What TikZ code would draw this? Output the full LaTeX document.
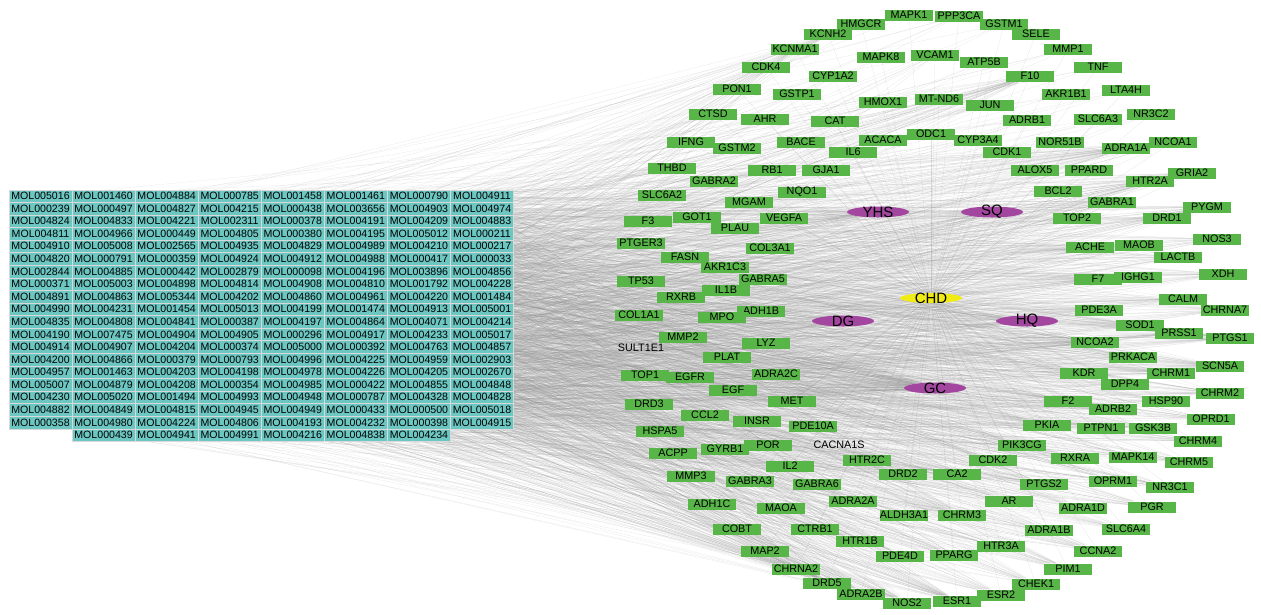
\documentclass[tikz,border=0pt]{standalone}
\usepackage{fontspec}
\setmainfont{Liberation Sans}
\usetikzlibrary{shapes.geometric}
\definecolor{molcyan}{RGB}{108,199,194}
\definecolor{genegreen}{RGB}{88,182,72}
\definecolor{herbpurple}{RGB}{163,70,160}
\definecolor{chdyellow}{RGB}{240,235,20}
\pgfdeclarelayer{edges}
\pgfsetlayers{edges,main}
\pgfmathdeclarerandomlist{herbs}{{YHS}{SQ}{DG}{HQ}{GC}{GC}{GC}}
\pgfmathdeclarerandomlist{hubs}{{PTGS1}{PTGS1}{PTGS2}{PTGS2}{ESR1}{ESR1}{NOS2}{NCOA2}{NCOA2}{SCN5A}{SCN5A}{ADRB2}{ADRB2}{CHRM1}{CHRM1}{CHRM2}{CHRM2}{CHRM3}{CHRM4}{CHRM5}{PRSS1}{CALM}{CHRNA7}{PGR}{F10}{F10}{F7}{F2}{NOS3}{XDH}{LACTB}{MAOB}{PYGM}{DRD1}{GRIA2}{HTR2A}{NCOA1}{ADRA1A}{SOD1}{PRKACA}{HSP90}{OPRD1}{GSK3B}{NR3C1}{SLC6A4}{CCNA2}{PIM1}{CHEK1}{ESR2}{ADRA2B}{DRD5}{PDE3A}{IGHG1}{ACHE}{DPP4}{KDR}{MAPK14}{OPRM1}{ADRA1D}{ADRA1B}{HTR3A}{PPARG}{AR}{CHRNA2}{PDE4D}{HTR1B}{GABRA1}{TOP2}{PTPN1}{PKIA}{RXRA}{CDK2}{PIK3CG}{CA2}{DRD2}{ADRA2A}{KCNMA1}{KCNH2}{NOS2}{DRD5}{ADRA2B}}

% target name / x / y
\def\targets{MAPK1/909/15, PPP3CA/959/16, GSTM1/1004/24, HMGCR/861/24, KCNH2/828/34,
  SELE/1036/34, KCNMA1/795/49, MMP1/1068/49, VCAM1/935/55, MAPK8/881/57, ATP5B/984/62, CDK4/766/67,
  TNF/1098/67, CYP1A2/833/76, F10/1030/76, PON1/737/89, LTA4H/1126/90, GSTP1/797/94, AKR1B1/1066/94,
  MT-ND6/939/99, HMOX1/883/102, JUN/990/105, CTSD/713/114, NR3C2/1151/114, AHR/765/119, SLC6A3/1098/119,
  ADRB1/1027/120, CAT/835/121, ODC1/931/134, ACACA/883/140, CYP3A4/978/140, IFNG/691/142, BACE/801/142,
  NOR51B/1060/142, NCOA1/1173/142, GSTM2/737/148, ADRA1A/1126/148, IL6/853/152, CDK1/1007/152,
  THBD/672/168, RB1/772/170, GJA1/826/170, ALOX5/1035/170, PPARD/1089/170, GRIA2/1192/173,
  GABRA2/714/181, HTR2A/1150/181, NQO1/802/192, BCL2/1058/191, SLC6A2/662/195, MGAM/749/202,
  GABRA1/1112/202, PYGM/1207/207, F3/648/221, GOT1/697/217, VEGFA/784/218, TOP2/1077/218,
  DRD1/1167/218, PLAU/735/228, NOS3/1217/239, PTGER3/641/243, ACHE/1090/247, MAOB/1139/245,
  COL3A1/770/248, FASN/685/257, LACTB/1178/257, AKR1C3/725/267, XDH/1223/274, F7/1098/279,
  IGHG1/1138/277, GABRA5/763/279, TP53/641/281, IL1B/726/290, RXRB/681/297, CALM/1183/299,
  PDE3A/1099/310, CHRNA7/1225/310, ADH1B/761/311, COL1A1/639/315, MPO/722/317, SOD1/1140/325,
  PRSS1/1179/333, MMP2/683/337, PTGS1/1230/338, NCOA2/1095/342, LYZ/766/343, PLAT/727/357,
  PRKACA/1133/357, SCN5A/1220/366, KDR/1084/373, CHRM1/1171/373, ADRA2C/776/374, TOP1/645/375,
  EGFR/690/377, DPP4/1125/384, EGF/733/390, CHRM2/1220/393, F2/1068/401, HSP90/1166/401,
  MET/792/401, DRD3/649/404, ADRB2/1113/409, CCL2/705/415, OPRD1/1211/419, INSR/757/421,
  PKIA/1047/425, PDE10A/813/426, PTPN1/1101/428, GSK3B/1153/428, HSPA5/660/431, CHRM4/1198/441,
  PIK3CG/1022/445, POR/768/445, GYRB1/725/449, ACPP/673/453, MAPK14/1133/457, RXRA/1075/458,
  CDK2/993/460, HTR2C/867/460, CHRM5/1189/462, IL2/790/466, CA2/957/474, DRD2/903/474,
  MMP3/691/476, GABRA3/750/481, OPRM1/1113/481, PTGS2/1044/484, GABRA6/817/484, NR3C1/1170/487,
  ADRA2A/853/501, AR/1009/501, ADH1C/712/504, PGR/1152/507, ADRA1D/1083/508, MAOA/781/508,
  ALDH3A1/904/515, CHRM3/962/515, COBT/737/529, CTRB1/815/529, SLC6A4/1126/529, ADRA1B/1049/530,
  HTR1B/860/541, HTR3A/1001/546, MAP2/765/551, CCNA2/1098/551, PPARG/954/555, PDE4D/900/556,
  CHRNA2/796/569, PIM1/1068/569, DRD5/827/583, CHEK1/1036/584, ADRA2B/861/594, ESR2/1001/595,
  ESR1/957/601, NOS2/907/603}

% row / first column / ingredients
\def\ingredients{
  1/1/{MOL005016,MOL001460,MOL004884,MOL000785,MOL001458,MOL001461,MOL000790,MOL004911},
  2/1/{MOL000239,MOL000497,MOL004827,MOL004215,MOL000438,MOL003656,MOL004903,MOL004974},
  3/1/{MOL004824,MOL004833,MOL004221,MOL002311,MOL000378,MOL004191,MOL004209,MOL004883},
  4/1/{MOL004811,MOL004966,MOL000449,MOL004805,MOL000380,MOL004195,MOL005012,MOL000211},
  5/1/{MOL004910,MOL005008,MOL002565,MOL004935,MOL004829,MOL004989,MOL004210,MOL000217},
  6/1/{MOL004820,MOL000791,MOL000359,MOL004924,MOL004912,MOL004988,MOL000417,MOL000033},
  7/1/{MOL002844,MOL004885,MOL000442,MOL002879,MOL000098,MOL004196,MOL003896,MOL004856},
  8/1/{MOL000371,MOL005003,MOL004898,MOL004814,MOL004908,MOL004810,MOL001792,MOL004228},
  9/1/{MOL004891,MOL004863,MOL005344,MOL004202,MOL004860,MOL004961,MOL004220,MOL001484},
  10/1/{MOL004990,MOL004231,MOL001454,MOL005013,MOL004199,MOL001474,MOL004913,MOL005001},
  11/1/{MOL004835,MOL004808,MOL004841,MOL000387,MOL004197,MOL004864,MOL004071,MOL004214},
  12/1/{MOL004190,MOL007475,MOL004904,MOL004905,MOL000296,MOL004917,MOL004233,MOL005017},
  13/1/{MOL004914,MOL004907,MOL004204,MOL000374,MOL005000,MOL000392,MOL004763,MOL004857},
  14/1/{MOL004200,MOL004866,MOL000379,MOL000793,MOL004996,MOL004225,MOL004959,MOL002903},
  15/1/{MOL004957,MOL001463,MOL004203,MOL004198,MOL004978,MOL004226,MOL004205,MOL002670},
  16/1/{MOL005007,MOL004879,MOL004208,MOL000354,MOL004985,MOL000422,MOL004855,MOL004848},
  17/1/{MOL004230,MOL005020,MOL001494,MOL004993,MOL004948,MOL000787,MOL004328,MOL004828},
  18/1/{MOL004882,MOL004849,MOL004815,MOL004945,MOL004949,MOL000433,MOL000500,MOL005018},
  19/1/{MOL000358,MOL004980,MOL004224,MOL004806,MOL004193,MOL004232,MOL000398,MOL004915},
  20/2/{MOL000439,MOL004941,MOL004991,MOL004216,MOL004838,MOL004234}}

\begin{document}
\begin{tikzpicture}[x=1pt,y=-1pt,
  mol/.style={rectangle,fill=molcyan,draw=white!70!gray,line width=0.4pt,minimum width=63pt,minimum height=12.6pt,inner sep=0pt,font=\fontsize{10.6}{12}\selectfont},
  gene/.style={rectangle,fill=genegreen,minimum width=48pt,minimum height=11pt,inner sep=0pt,font=\fontsize{10.8}{12}\selectfont},
  genebare/.style={gene,fill=none},
  herb/.style={ellipse,fill=herbpurple,minimum width=62pt,minimum height=11pt,inner sep=0pt},
  herbtext/.style={font=\fontsize{15}{16}\selectfont,inner sep=0pt},
  link/.style={draw=black!45,line width=0.25pt,draw opacity=0.2},
  thinlink/.style={draw=black!40,line width=0.2pt,draw opacity=0.3}]
  \useasboundingbox (0,0) rectangle (1261,614);
  \pgfmathsetseed{20}

  % herbs and disease
  \node[herb,label={[herbtext]center:YHS}] (YHS) at (878,212) {};
  \node[herb,label={[herbtext]center:SQ}] (SQ) at (992,212) {};
  \node[herb,label={[herbtext]center:DG}] (DG) at (843,321) {};
  \node[herb,label={[herbtext]center:HQ}] (HQ) at (1027,321) {};
  \node[herb,label={[herbtext]center:GC}] (GC) at (935,388) {};
  \node[herb,fill=chdyellow,minimum height=10pt,label={[herbtext]center:CHD}] (CHD) at (931,298) {};

  % targets
  \foreach \n/\x/\y [count=\i] in \targets
    \node[gene,alias=g\i] (\n) at (\x,\y) {\n};
  \node[genebare] (SULT1E1) at (641,348) {SULT1E1};
  \node[genebare] (CACNA1S) at (839,445) {CACNA1S};

  % ingredients
  \foreach \r/\s/\row in \ingredients
    \foreach \m [count=\c] in \row
      \node[mol] (\m) at ({40.5+(\c+\s-2)*63.07},{196+(\r-1)*12.58}) {\m};

  \begin{pgfonlayer}{edges}
    \foreach \n/\x/\y in \targets
      \draw[thinlink] (CHD) -- (\n);
    \draw[thinlink] (CHD) -- (SULT1E1) (CHD) -- (CACNA1S);
    \foreach \r/\s/\row in \ingredients {
      \foreach \m in \row {
        \foreach \k in {1,2} {
          \pgfmathrandomitem{\hb}{herbs}
          \draw[link] (\hb) -- (\m);
        }
        \foreach \k in {1,...,11} {
          \pgfmathrandomitem{\h}{hubs}
          \draw[link] (\m) -- (\h);
        }
        \foreach \k in {1,...,4} {
          \pgfmathrandominteger{\g}{1}{155}
          \draw[link] (\m) -- (g\g);
        }
      }
    }
  \end{pgfonlayer}
\end{tikzpicture}
\end{document}
